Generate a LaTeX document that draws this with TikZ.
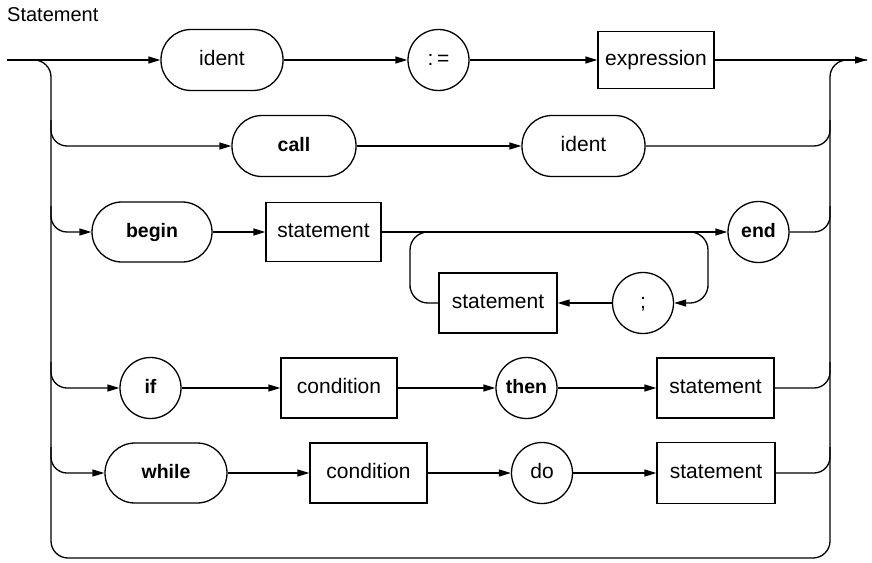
\documentclass[tikz,border=0pt]{standalone}
\usepackage{fontspec}
\setmainfont{Liberation Sans}
\usetikzlibrary{arrows.meta}
\begin{document}
\begin{tikzpicture}[x=1pt,y=-1pt,
  every node/.style={inner sep=0pt, font=\fontsize{21}{25}\selectfont, text height=14.5pt, text depth=4pt},
  line/.style={line width=1.3pt},
  arr/.style={line width=1.3pt, -{Triangle[length=12pt,width=7pt]}},
  term/.style={draw, line width=1.3pt, rectangle, rounded corners=30pt, minimum height=61pt},
  circ/.style={draw, line width=1.3pt, circle, minimum size=61pt},
  nt/.style={draw, line width=1.3pt, rectangle, minimum height=59pt},
  kw/.style={font=\fontsize{19.5}{23}\selectfont\bfseries}
]
\useasboundingbox (0,0) rectangle (872,562);

\node[anchor=base west, font=\fontsize{20}{24}\selectfont] (title) at (7,21) {Statement};

% row 1
\node[term, minimum width=122pt] (ident1) at (222,60) {ident};
\node[circ] (assign) at (438.5,60) {:\,=};
\node[nt, minimum width=116pt, minimum height=57pt] (expr) at (656,60) {expression};
% row 2
\node[term, kw, minimum width=124pt] (call) at (294,146) {call};
\node[term, minimum width=123pt] (ident2) at (583.5,146) {ident};
% row 3
\node[term, kw, minimum width=120pt, minimum height=60pt] (begin) at (152,232) {begin};
\node[nt, minimum width=115pt] (stmt1) at (323.5,232) {statement};
\node[circ, kw] (end) at (758.5,232) {end};
\node[circ] (semi) at (643,303) {;};
\node[nt, minimum width=118pt, minimum height=60pt] (stmt2) at (498,303) {statement};
% row 4
\node[circ, kw] (if) at (150.5,388) {if};
\node[nt, minimum width=116pt, minimum height=60pt] (cond1) at (339,388) {condition};
\node[circ, kw] (then) at (526.5,388) {then};
\node[nt, minimum width=117pt, minimum height=60pt] (stmt3) at (715.5,388) {statement};
% row 5
\node[term, kw, minimum width=122pt, minimum height=60pt] (while) at (166,473) {while};
\node[nt, minimum width=117pt, minimum height=60pt] (cond2) at (368.5,473) {condition};
\node[circ] (do) at (542,473) {do};
\node[nt, minimum width=118pt, minimum height=61pt] (stmt4) at (716,473) {statement};

\coordinate (in) at (7,60);
\coordinate (out) at (867,60);
\coordinate (lb) at (51,558);
\coordinate (rt) at (830,60);

% outer frame (bus + empty alternative)
\draw[line, rounded corners=17pt] (in) -| (lb) -| (rt) -- (out);

% row 1
\draw[arr] (in) -- (ident1.west);
\draw[arr] (ident1.east) -- (assign.west);
\draw[arr] (assign.east) -- (expr.west);
\draw[arr] (expr.east) -- (out);
% row 2
\draw[arr, rounded corners=16pt] (51,120) |- (call.west);
\draw[arr] (call.east) -- (ident2.west);
\draw[line, rounded corners=16pt] (ident2.east) -| (830,120);
% row 3
\draw[arr, rounded corners=16pt] (51,206) |- (begin.west);
\draw[arr] (begin.east) -- (stmt1.west);
\draw[arr] (stmt1.east) -- (end.west);
\draw[line, rounded corners=16pt] (end.east) -| (830,206);
\draw[arr, rounded corners=18pt] (680,232) -| (708,270) |- (semi.east);
\draw[arr] (semi.west) -- (stmt2.east);
\draw[line, rounded corners=18pt] (stmt2.west) -| (410,270) |- (445,232);
% row 4
\draw[arr, rounded corners=16pt] (51,362) |- (if.west);
\draw[arr] (if.east) -- (cond1.west);
\draw[arr] (cond1.east) -- (then.west);
\draw[arr] (then.east) -- (stmt3.west);
\draw[line, rounded corners=16pt] (stmt3.east) -| (830,362);
% row 5
\draw[arr, rounded corners=16pt] (51,447) |- (while.west);
\draw[arr] (while.east) -- (cond2.west);
\draw[arr] (cond2.east) -- (do.west);
\draw[arr] (do.east) -- (stmt4.west);
\draw[line, rounded corners=16pt] (stmt4.east) -| (830,447);
\end{tikzpicture}
\end{document}
